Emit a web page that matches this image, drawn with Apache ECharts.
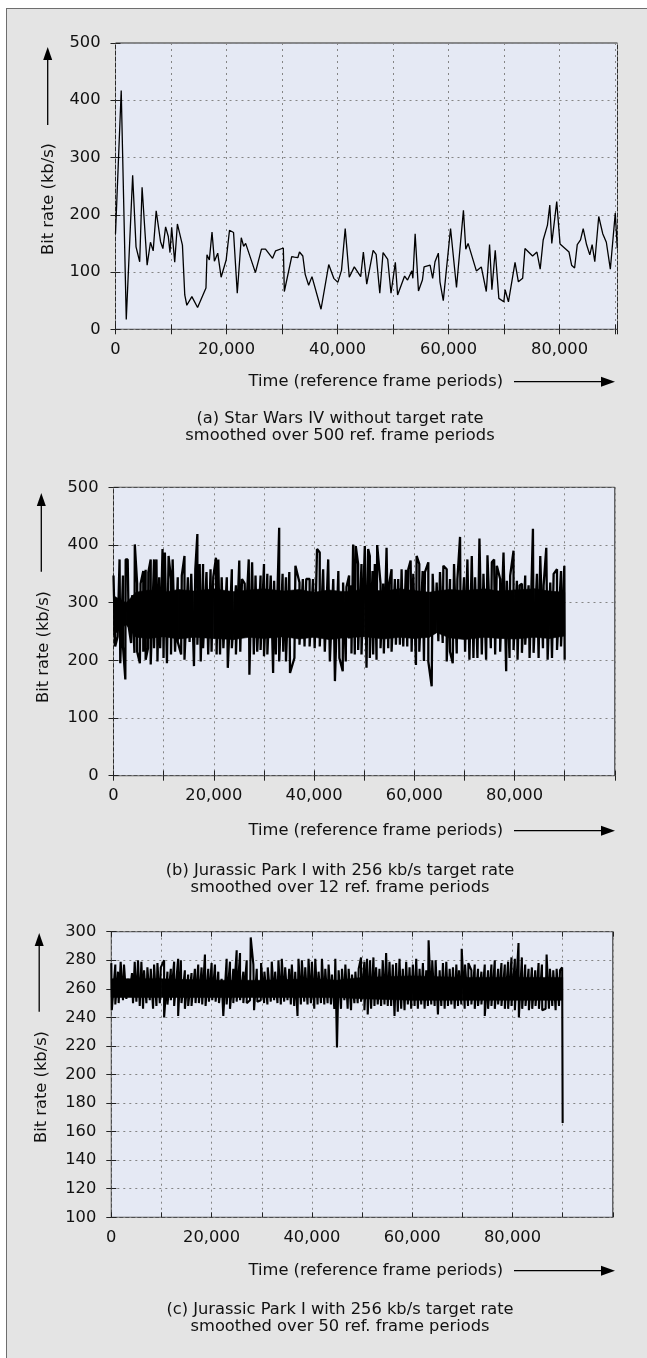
<!DOCTYPE html>
<html>
<head>
<meta charset="utf-8">
<title>Bit rate traces</title>
<script src="https://cdn.jsdelivr.net/npm/echarts/dist/echarts.min.js"></script>
<style>
  html, body { margin: 0; padding: 0; background: #fff; }
  #frame { position: absolute; left: 6px; top: 8px; width: 641px; height: 1350px; background: #e4e4e4;
           border-top: 1px solid #6e6e6e; border-left: 1px solid #6e6e6e; box-sizing: border-box; }
  #main { position: absolute; left: 0; top: 0; width: 647px; height: 1358px; }
</style>
</head>
<body>
<div id="frame"></div>
<div id="main"></div>
<script>
// (a) Star Wars IV, smoothed over 500 frames
var aTime = [0, 1030, 1940, 3090, 3700, 4360, 4790, 5700, 6300, 6790, 7330, 8120, 8540, 9030, 9510, 9820,
  10120, 10670, 11150, 12060, 12480, 12850, 13760, 14790, 16300, 16480, 16910, 17390, 17820, 18420, 19030,
  19940, 20540, 21270, 21940, 22660, 23090, 23450, 25210, 26300, 27030, 28300, 28850, 30240, 30420, 31750,
  32240, 32850, 33150, 33750, 34180, 34800, 35400, 37030, 38420, 39330, 40060, 40720, 41390, 42120, 43030,
  44180, 44660, 45270, 46420, 46960, 47620, 48210, 49050, 49640, 50420, 50830, 52090, 52620, 53400, 53580,
  53990, 54590, 55300, 55600, 56680, 57150, 57570, 58170, 58460, 59060, 60370, 61440, 62690, 63110, 63530,
  65020, 65910, 66810, 67400, 67820, 68420, 69070, 69970, 70200, 70800, 71990, 72590, 73360, 73780, 75150,
  75930, 76520, 77060, 77830, 78250, 78610, 79500, 80100, 81710, 82180, 82720, 83200, 83790, 84270, 84870,
  85460, 85880, 86360, 87070, 87790, 88440, 89160, 90050, 90410];
var aRate = [167, 417, 17, 269, 144, 118, 248, 112, 152, 137, 207, 153, 141, 179, 162, 134,
  178, 117, 184, 147, 60, 42, 57, 38, 72, 130, 121, 170, 119, 133, 91,
  121, 173, 169, 63, 160, 145, 150, 99, 140, 140, 124, 137, 142, 66, 127,
  126, 125, 135, 128, 96, 77, 92, 35, 113, 89, 82, 103, 176, 91, 109,
  92, 135, 79, 138, 131, 63, 134, 122, 63, 117, 60, 93, 86, 102, 89,
  167, 67, 86, 109, 112, 89, 118, 133, 83, 50, 176, 73, 208, 140, 150,
  102, 109, 66, 148, 69, 138, 54, 48, 69, 48, 117, 83, 89, 141, 128,
  135, 105, 156, 182, 217, 150, 223, 149, 135, 112, 107, 148, 156, 176, 148,
  130, 148, 118, 197, 167, 152, 105, 203, 141];

// (b) Jurassic Park I, 256 kb/s target, smoothed over 12 frames: peaks and dips of the trace
var bPeakTime = [0, 1210, 1890, 2430, 2830, 3710, 4250, 4720, 5400, 5940,
  6410, 6950, 7420, 8090, 8570, 9110, 9780, 10250, 10990, 11470,
  11800, 12820, 13620, 14160, 14840, 15510, 16320, 16730, 17200, 17870,
  18550, 19360, 19900, 20440, 20910, 21580, 22600, 23610, 24420, 25090,
  25630, 26170, 26980, 27650, 28330, 29340, 30020, 30690, 31360, 32040,
  33050, 33730, 34400, 35070, 36290, 37100, 37770, 38450, 39120, 39800,
  40600, 41140, 41820, 42830, 43840, 44850,
  45800, 46470, 47000, 47470, 47800, 48330, 48800, 49470, 50130, 50800,
  51130, 51670, 52130, 52600, 53270, 53800, 54470, 55000, 55470, 56130,
  56800, 57470, 58330, 58800, 59270, 59800, 60470, 61000, 61670, 62130,
  62800, 63670, 64470, 65130, 65800, 66470, 67130, 67930, 68600, 69130,
  69930, 70600, 71470, 72130, 73000, 73800, 74600, 75470, 75930, 76470,
  77130, 77800, 78470, 79130, 79800, 80470, 81000, 81470, 82130, 82800,
  83670, 84470, 85130, 85800, 86330, 87130, 87800, 88470, 89270, 89930];
var bPeakRate = [347, 375, 347, 375, 375, 313, 401, 333, 333, 355,
  357, 353, 375, 375, 375, 344, 393, 387, 381, 341,
  375, 344, 347, 381, 344, 350, 358, 419, 367, 367,
  353, 358, 344, 378, 375, 344, 344, 358, 330, 373,
  341, 333, 375, 370, 347, 347, 367, 350, 347, 338,
  430, 350, 344, 353, 364, 335, 341, 341, 341, 341,
  393, 387, 358, 375, 341, 355,
  335, 327, 347, 330, 401, 398, 367, 367, 398, 393,
  381, 355, 367, 400, 333, 333, 395, 333, 358, 341,
  341, 358, 357, 358, 373, 350, 381, 367, 355, 353,
  370, 350, 335, 353, 364, 358, 341, 367, 341, 414,
  344, 375, 381, 344, 411, 350, 382, 370, 375, 364,
  341, 387, 338, 347, 390, 338, 330, 333, 347, 330,
  428, 350, 381, 330, 395, 335, 350, 358, 355, 364];
var bDipTime = [340, 810, 1350, 1890, 2360, 3040, 3510, 4180, 4720, 5260,
  5940, 6410, 6880, 7420, 8090, 8770, 9310, 9980, 10660, 11470,
  12280, 12820, 13490, 14160, 15180, 16050, 16730, 17400, 17870, 18890,
  19560, 20570, 21250, 21920, 22800, 23610, 24420, 25290, 26300, 27110,
  27990, 28670, 29340, 30020, 30690, 31840, 32380, 33050, 33860, 34400,
  35210, 36090, 37100, 38110, 39120, 40130, 41140, 42150, 43160, 44170,
  45060, 45730,
  46330, 47000, 47470, 48130, 48800, 49470, 50470, 51130, 51800, 52470,
  53270, 53930, 54800, 55470, 56330, 57130, 57800, 58600, 59470, 60330,
  61000, 61930, 62800, 63470, 64130, 64800, 65670, 66470, 67130, 67670,
  68470, 69270, 70130, 71000, 71800, 72600, 73470, 74330, 75270, 76130,
  77130, 78330, 79000, 79800, 80600, 81470, 82130, 83000, 83800, 84800,
  85670, 86600, 87470, 88470, 89270, 90000];
var bDipRate = [224, 241, 195, 224, 167, 258, 230, 213, 215, 195,
  215, 201, 221, 193, 221, 198, 221, 204, 195, 210,
  215, 232, 210, 201, 232, 190, 227, 198, 221, 210,
  215, 210, 210, 221, 187, 221, 210, 215, 253, 175,
  210, 215, 218, 207, 210, 178, 210, 198, 215, 198,
  178, 204, 227, 224, 224, 221, 224, 215, 198, 164,
  204, 181,
  198, 238, 212, 210, 218, 210, 187, 204, 210, 201,
  221, 212, 221, 215, 227, 227, 224, 224, 215, 192,
  215, 199, 198, 155, 250, 233, 230, 198, 215, 195,
  212, 238, 215, 201, 204, 204, 210, 201, 221, 210,
  215, 181, 204, 218, 201, 213, 227, 204, 213, 204,
  221, 201, 204, 218, 224, 201];
// solid black core of the (b) band (edges of the fully inked region)
var bCoreTime = [0, 2500, 4500, 7000, 10000, 13000, 16000, 20000, 24000, 27000, 30000, 34000, 37000, 40000,
  43000, 46000, 50000, 54000, 57000, 60000, 63000, 64500, 67000, 70000, 74000, 77000, 80000, 84000, 87000, 90000];
var bCoreLow = [244, 262, 240, 238, 241, 237, 240, 238, 236, 240, 238, 241, 237, 240,
  236, 239, 241, 237, 240, 238, 240, 248, 239, 236, 240, 238, 237, 240, 238, 242];
var bCoreHigh = [312, 300, 318, 322, 318, 323, 320, 324, 319, 322, 324, 320, 323, 318,
  322, 319, 323, 320, 324, 321, 318, 320, 323, 321, 324, 320, 322, 324, 320, 318];

// (c) Jurassic Park I, 256 kb/s target, smoothed over 50 frames: peaks and dips of the trace
var cPeakTime = [0, 800, 1330, 1870, 2530, 3330, 4130, 4670, 5330, 6000,
  6530, 7200, 7870, 8530, 9200, 9870, 10530, 11200, 11870, 12530,
  13330, 13870, 14670, 15330, 16000, 16670, 17330, 18000, 18670, 19330,
  20000, 20670, 21330, 22000, 23000, 23670, 24330, 25000, 25670, 26330,
  27000, 27800, 28330, 29000, 29870, 30530, 31200, 32000, 32670, 33330,
  34000, 34670, 35470, 36000, 36670, 37330, 38000, 38670, 39330, 40000,
  40670, 41330, 42000, 42670, 43330, 44000, 44670,
  45330, 46000, 46670, 47330, 48000, 48670, 49330, 49800, 50470, 51000,
  51600, 52270, 52800, 53470, 54130, 54800, 55470, 56130, 56800, 57470,
  58130, 58800, 59470, 60130, 60800, 61470, 62130, 62800, 63270, 64000,
  64670, 65470, 66130, 66800, 67470, 68130, 68800, 69330, 69870, 70530,
  71200, 71800, 72470, 73130, 73800, 74470, 75130, 75800, 76470, 77130,
  77800, 78470, 79130, 79800, 80470, 81200, 81870, 82530, 83200, 83870,
  84530, 85200, 85870, 86800, 87470, 88130, 88800, 89470, 89900];
var cPeakRate = [278, 277, 272, 279, 277, 267, 271, 279, 280, 279,
  273, 275, 274, 277, 278, 275, 280, 272, 274, 279,
  281, 280, 273, 270, 271, 274, 277, 275, 284, 274,
  278, 277, 272, 267, 281, 279, 274, 287, 285, 272,
  280, 296, 277, 274, 278, 272, 275, 279, 272, 280,
  281, 275, 274, 277, 272, 281, 280, 275, 281, 279,
  281, 272, 281, 274, 277, 270, 281,
  273, 274, 277, 274, 270, 272, 274, 282, 279, 281,
  280, 282, 275, 274, 280, 285, 279, 277, 278, 281,
  274, 279, 275, 277, 281, 274, 278, 273, 294, 280,
  280, 273, 278, 279, 274, 275, 277, 273, 288, 277,
  278, 273, 277, 274, 272, 277, 273, 277, 280, 274,
  278, 277, 279, 282, 281, 292, 282, 277, 274, 275,
  273, 278, 277, 284, 274, 273, 274, 273, 275];
var cDipTime = [100, 800, 1470, 2330, 3000, 3670, 4330, 5000, 5670, 6330,
  7000, 7670, 8330, 9000, 9670, 10530, 11200, 11870, 12530, 13330,
  14000, 14670, 15330, 16000, 16800, 17470, 18130, 18800, 19470, 20130,
  20800, 21470, 22330, 23000, 23670, 24330, 25000, 25670, 26330, 27000,
  27670, 28470, 29130, 29800, 30470, 31130, 31800, 32470, 33130, 33800,
  34470, 35130, 35800, 36470, 37130, 37800, 38470, 39130, 39800, 40470,
  41130, 41800, 42470, 43130, 43800, 44470, 45000,
  45800, 46470, 47130, 47800, 48470, 49130, 49800, 50470, 51130, 51800,
  52470, 53130, 53800, 54470, 55130, 55800, 56470, 57130, 57800, 58470,
  59130, 59800, 60470, 61130, 61800, 62470, 63130, 63800, 64470, 65130,
  65800, 66470, 67130, 67800, 68470, 69130, 69800, 70470, 71130, 71800,
  72470, 73130, 73800, 74470, 75130, 75800, 76470, 77130, 77800, 78470,
  79130, 79800, 80470, 81270, 81930, 82600, 83270, 83930, 84600, 85270,
  85930, 86600, 87270, 87930, 88600, 89270, 90000];
var cDipRate = [245, 249, 250, 252, 253, 257, 250, 251, 248, 246,
  250, 252, 246, 248, 250, 240, 249, 252, 248, 241,
  250, 246, 248, 248, 250, 250, 249, 248, 251, 252,
  251, 250, 241, 249, 246, 250, 251, 252, 250, 250,
  252, 245, 251, 252, 250, 249, 251, 252, 250, 249,
  251, 252, 249, 248, 241, 249, 251, 249, 250, 246,
  249, 250, 249, 250, 249, 246, 219,
  246, 252, 246, 245, 250, 250, 251, 245, 242, 246,
  248, 249, 248, 249, 248, 248, 241, 244, 246, 245,
  249, 246, 248, 246, 249, 246, 248, 249, 248, 242,
  248, 246, 248, 249, 246, 248, 249, 246, 248, 249,
  246, 248, 249, 241, 246, 248, 246, 249, 248, 246,
  246, 248, 245, 240, 246, 248, 245, 246, 248, 246,
  245, 246, 246, 248, 245, 248, 166];
// solid black core of the (c) band
var cCoreTime = [0, 10000, 20000, 30000, 40000, 45000, 50000, 60000, 70000, 80000, 90000];
var cCoreLow = [254, 254, 254, 254, 254, 254, 253, 252, 252, 252, 252];
var cCoreHigh = [267, 267, 266, 266, 267, 266, 268, 269, 268, 268, 268];

var captions = [
  '(a) Star Wars IV without target rate\nsmoothed over 500 ref. frame periods',
  '(b) Jurassic Park I with 256 kb/s target rate\nsmoothed over 12 ref. frame periods',
  '(c) Jurassic Park I with 256 kb/s target rate\nsmoothed over 50 ref. frame periods'
];
var yTitle = 'Bit rate (kb/s)';
var xTitle = 'Time (reference frame periods)';

var FONT = 'DejaVu Sans';
var FS = 16.3;

function pairs(t, v) {
  return t.map(function (x, i) { return [x, v[i]]; });
}

// merge peaks and dips into one time-ordered trace
function trace(pt, pv, dt, dv) {
  var pts = [];
  pt.forEach(function (t, i) { pts.push([t, pv[i], 0]); });
  dt.forEach(function (t, i) { pts.push([t, dv[i], 1]); });
  pts.sort(function (a, b) { return a[0] - b[0] || a[2] - b[2]; });
  return pts.map(function (p) { return [p[0], p[1]]; });
}

// filled band between low and high edges, one quad per pair of neighbouring samples
function coreBand(idx, t, lo, hi) {
  var rows = [];
  for (var i = 0; i < t.length - 1; i++) {
    rows.push([t[i], lo[i], hi[i], t[i + 1], lo[i + 1], hi[i + 1]]);
  }
  return {
    type: 'custom', coordinateSystem: 'cartesian2d', xAxisIndex: idx, yAxisIndex: idx, silent: true,
    data: rows, encode: { x: [0, 3], y: [1, 2, 4, 5] },
    renderItem: function (params, api) {
      var p0 = api.coord([api.value(0), api.value(1)]);
      var p1 = api.coord([api.value(3), api.value(4)]);
      var p2 = api.coord([api.value(3), api.value(5)]);
      var p3 = api.coord([api.value(0), api.value(2)]);
      return { type: 'polygon', shape: { points: [p0, p1, p2, p3] },
        style: { fill: '#000', stroke: '#000', lineWidth: 0.6 } };
    }
  };
}

var panels = [
  { grid: { left: 115.5, top: 43, width: 502, height: 286.3 }, xMax: 90450, yMin: 0, yMax: 500, yStep: 100,
    arrowX: 47.7, arrowTop: 47, arrowBottom: 125, yTextX: 48.3, yTextY: 199, xTextY: 381.7, capY: 427.5 },
  { grid: { left: 113.5, top: 487.3, width: 501.3, height: 288.4 }, xMax: 100000, yMin: 0, yMax: 500, yStep: 100,
    arrowX: 41.3, arrowTop: 493, arrowBottom: 571.7, yTextX: 43.3, yTextY: 647, xTextY: 830.7, capY: 879.5 },
  { grid: { left: 111.3, top: 931.7, width: 501.5, height: 285.6 }, xMax: 100000, yMin: 100, yMax: 300, yStep: 20,
    arrowX: 39.2, arrowTop: 933, arrowBottom: 1011.7, yTextX: 41.3, yTextY: 1087, xTextY: 1270.7, capY: 1318.5 }
];

var tick = { show: true, inside: true, length: 5, lineStyle: { color: '#222', width: 1 } };
var split = { show: true, lineStyle: { color: '#858585', width: 1, type: [2, 4] } };

var grids = [], xAxes = [], yAxes = [], graphics = [];
panels.forEach(function (p, g) {
  grids.push(Object.assign({ show: true, backgroundColor: '#e5e9f4', borderColor: '#2a2a2a', borderWidth: 1 }, p.grid));
  xAxes.push({
    type: 'value', gridIndex: g, min: 0, max: p.xMax, interval: 10000,
    axisLine: { show: false }, axisTick: tick, splitLine: split,
    axisLabel: { margin: 12, color: '#111', fontFamily: FONT, fontSize: FS,
      formatter: function (v) { return (v % 20000 === 0 && v <= 80000) ? v.toLocaleString('en-US') : ''; } }
  });
  xAxes.push({
    type: 'value', gridIndex: g, position: 'top', min: 0, max: p.xMax, interval: 10000,
    axisLine: { show: false }, axisTick: tick, splitLine: { show: false }, axisLabel: { show: false }
  });
  yAxes.push({
    type: 'value', gridIndex: g, min: p.yMin, max: p.yMax, interval: p.yStep,
    axisLine: { show: false }, axisTick: tick, splitLine: split,
    axisLabel: { margin: 15, color: '#111', fontFamily: FONT, fontSize: FS }
  });
  yAxes.push({
    type: 'value', gridIndex: g, position: 'right', min: p.yMin, max: p.yMax, interval: p.yStep,
    axisLine: { show: false }, axisTick: tick, splitLine: { show: false }, axisLabel: { show: false }
  });

  // vertical arrow + rotated axis title
  graphics.push({ type: 'line', silent: true,
    shape: { x1: p.arrowX, y1: p.arrowBottom, x2: p.arrowX, y2: p.arrowTop + 10 },
    style: { stroke: '#000', lineWidth: 1.3 } });
  graphics.push({ type: 'polygon', silent: true,
    shape: { points: [[p.arrowX - 4.5, p.arrowTop + 13], [p.arrowX + 4.5, p.arrowTop + 13], [p.arrowX, p.arrowTop]] },
    style: { fill: '#000' } });
  graphics.push({ type: 'text', silent: true, x: p.yTextX, y: p.yTextY, rotation: Math.PI / 2,
    style: { text: yTitle, fill: '#111', font: FS + 'px "' + FONT + '"',
      textAlign: 'center', textVerticalAlign: 'middle', align: 'center', verticalAlign: 'middle' } });

  // horizontal axis title + arrow
  graphics.push({ type: 'text', silent: true, x: 503, y: p.xTextY,
    style: { text: xTitle, fill: '#111', font: FS + 'px "' + FONT + '"',
      textAlign: 'right', textVerticalAlign: 'middle', align: 'right', verticalAlign: 'middle' } });
  graphics.push({ type: 'line', silent: true,
    shape: { x1: 514, y1: p.xTextY, x2: 603, y2: p.xTextY },
    style: { stroke: '#000', lineWidth: 1.3 } });
  graphics.push({ type: 'polygon', silent: true,
    shape: { points: [[601, p.xTextY - 5], [601, p.xTextY + 5], [615, p.xTextY]] },
    style: { fill: '#000' } });

  // caption
  graphics.push({ type: 'text', silent: true, x: 340, y: p.capY,
    style: { text: captions[g], fill: '#111', font: FS + 'px "' + FONT + '"', lineHeight: 16.5,
      textAlign: 'center', textVerticalAlign: 'middle', align: 'center', verticalAlign: 'middle' } });
});

var series = [
  { type: 'line', xAxisIndex: 0, yAxisIndex: 0, data: pairs(aTime, aRate), showSymbol: false,
    lineStyle: { color: '#000', width: 1.3 }, silent: true },
  coreBand(2, bCoreTime, bCoreLow, bCoreHigh),
  { type: 'line', xAxisIndex: 2, yAxisIndex: 2, data: trace(bPeakTime, bPeakRate, bDipTime, bDipRate),
    showSymbol: false, lineStyle: { color: '#000', width: 2.3, join: 'bevel' }, silent: true },
  coreBand(4, cCoreTime, cCoreLow, cCoreHigh),
  { type: 'line', xAxisIndex: 4, yAxisIndex: 4, data: trace(cPeakTime, cPeakRate, cDipTime, cDipRate),
    showSymbol: false, lineStyle: { color: '#000', width: 2.1, join: 'bevel' }, silent: true }
];

var chart = echarts.init(document.getElementById('main'), null, { renderer: 'canvas' });
chart.setOption({
  animation: false,
  backgroundColor: 'transparent',
  grid: grids,
  xAxis: xAxes,
  yAxis: yAxes,
  graphic: { elements: graphics },
  series: series
});
</script>
</body>
</html>
